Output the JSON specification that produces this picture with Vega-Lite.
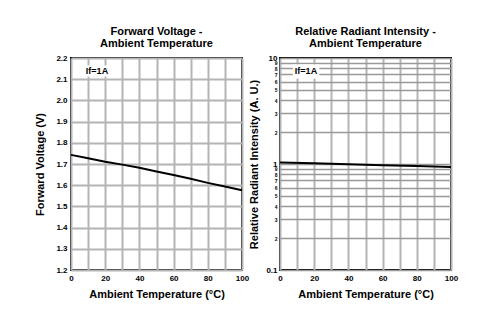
{
  "$schema": "https://vega.github.io/schema/vega-lite/v6.json",
  "padding": {"left": 33, "top": 24, "right": 5, "bottom": 5},
  "background": "white",
  "bounds": "flush",
  "spacing": 38,
  "config": {
    "font": "Liberation Sans",
    "view": {"stroke": "black", "strokeWidth": 2},
    "title": {"font": "Liberation Sans", "fontSize": 11, "fontWeight": "bold", "color": "black", "anchor": "middle", "offset": 5, "lineHeight": 12.5},
    "axis": {
      "labelFont": "Liberation Sans", "labelFontWeight": "bold", "labelFontSize": 8, "labelColor": "black",
      "titleFont": "Liberation Sans", "titleFontWeight": "bold", "titleFontSize": 11, "titleColor": "black",
      "ticks": false, "domain": false, "gridColor": "#b4b4b4", "gridWidth": 2, "gridOpacity": 1,
      "labelOverlap": false, "tickCount": 40, "labelFlush": false
    }
  },
  "datasets": {
    "vf": [
      {"t": 0, "v": 1.743}, {"t": 10, "v": 1.727}, {"t": 20, "v": 1.711}, {"t": 30, "v": 1.697},
      {"t": 40, "v": 1.682}, {"t": 50, "v": 1.665}, {"t": 60, "v": 1.648}, {"t": 70, "v": 1.63},
      {"t": 80, "v": 1.611}, {"t": 90, "v": 1.594}, {"t": 100, "v": 1.576}
    ],
    "ri": [
      {"t": 0, "v": 1.035}, {"t": 20, "v": 1.015}, {"t": 40, "v": 0.995}, {"t": 60, "v": 0.975},
      {"t": 80, "v": 0.955}, {"t": 100, "v": 0.935}
    ],
    "note1": [{"x0": 7.5, "x1": 23, "y0": 2.112, "y1": 2.165, "x": 15.2, "y": 2.137, "label": "If=1A"}],
    "note2": [{"x0": 7.5, "x1": 23, "y0": 6.4, "y1": 8.7, "x": 15.2, "y": 7.5, "label": "If=1A"}]
  },
  "hconcat": [
    {
      "width": 171, "height": 212,
      "title": {"text": ["Forward Voltage -", "Ambient Temperature"]},
      "layer": [
        {
          "data": {"name": "vf"},
          "mark": {"type": "line", "color": "black", "strokeWidth": 2},
          "encoding": {
            "x": {"field": "t", "type": "quantitative", "scale": {"domain": [0, 100], "nice": false},
              "axis": {"title": "Ambient Temperature (°C)", "values": [0,10,20,30,40,50,60,70,80,90,100],
                "labelExpr": "datum.value % 20 == 0 ? datum.label : ''", "labelPadding": 4, "titlePadding": 6}},
            "y": {"field": "v", "type": "quantitative", "scale": {"domain": [1.2, 2.2], "nice": false, "zero": false},
              "axis": {"title": "Forward Voltage (V)", "values": [1.2,1.3,1.4,1.5,1.6,1.7,1.8,1.9,2.0,2.1,2.2],
                "format": ".1f", "labelPadding": 4, "titlePadding": 10}}
          }
        },
        {
          "data": {"name": "note1"},
          "mark": {"type": "rect", "fill": "white"},
          "encoding": {
            "x": {"field": "x0", "type": "quantitative"}, "x2": {"field": "x1"},
            "y": {"field": "y0", "type": "quantitative"}, "y2": {"field": "y1"}
          }
        },
        {
          "data": {"name": "note1"},
          "mark": {"type": "text", "font": "Liberation Sans", "fontWeight": "bold", "fontSize": 9, "color": "black"},
          "encoding": {
            "x": {"field": "x", "type": "quantitative"},
            "y": {"field": "y", "type": "quantitative"},
            "text": {"field": "label"}
          }
        }
      ]
    },
    {
      "width": 171, "height": 212,
      "title": {"text": ["Relative Radiant Intensity -", "Ambient Temperature"]},
      "layer": [
        {
          "data": {"name": "ri"},
          "mark": {"type": "line", "color": "black", "strokeWidth": 2},
          "encoding": {
            "x": {"field": "t", "type": "quantitative", "scale": {"domain": [0, 100], "nice": false},
              "axis": {"title": "Ambient Temperature (°C)", "values": [0,10,20,30,40,50,60,70,80,90,100],
                "labelExpr": "datum.value % 20 == 0 ? datum.label : ''", "labelPadding": 4, "titlePadding": 6}},
            "y": {"field": "v", "type": "quantitative", "scale": {"type": "log", "domain": [0.1, 10], "nice": false},
              "axis": {"title": "Relative Radiant Intensity (A. U.)",
                "values": [0.1,0.2,0.3,0.4,0.5,0.6,0.7,0.8,0.9,1,2,3,4,5,6,7,8,9,10],
                "labelExpr": "datum.value > 0.15 && datum.value < 0.95 ? format(round(datum.value*10), 'd') : (datum.value > 1.5 && datum.value < 9.5 ? format(round(datum.value), 'd') : (datum.value < 0.15 ? '0.1' : (datum.value < 1.5 ? '1' : '10')))",
                "labelFontSize": {"condition": {"test": "datum.value < 0.15 || (datum.value > 0.95 && datum.value < 1.05) || datum.value > 9.5", "value": 8}, "value": 5},
                "gridColor": "#999999", "gridWidth": 1.5,
                "labelPadding": 3, "titlePadding": 6}}
          }
        },
        {
          "data": {"name": "note2"},
          "mark": {"type": "rect", "fill": "white"},
          "encoding": {
            "x": {"field": "x0", "type": "quantitative"}, "x2": {"field": "x1"},
            "y": {"field": "y0", "type": "quantitative"}, "y2": {"field": "y1"}
          }
        },
        {
          "data": {"name": "note2"},
          "mark": {"type": "text", "font": "Liberation Sans", "fontWeight": "bold", "fontSize": 9, "color": "black"},
          "encoding": {
            "x": {"field": "x", "type": "quantitative"},
            "y": {"field": "y", "type": "quantitative"},
            "text": {"field": "label"}
          }
        }
      ]
    }
  ]
}
